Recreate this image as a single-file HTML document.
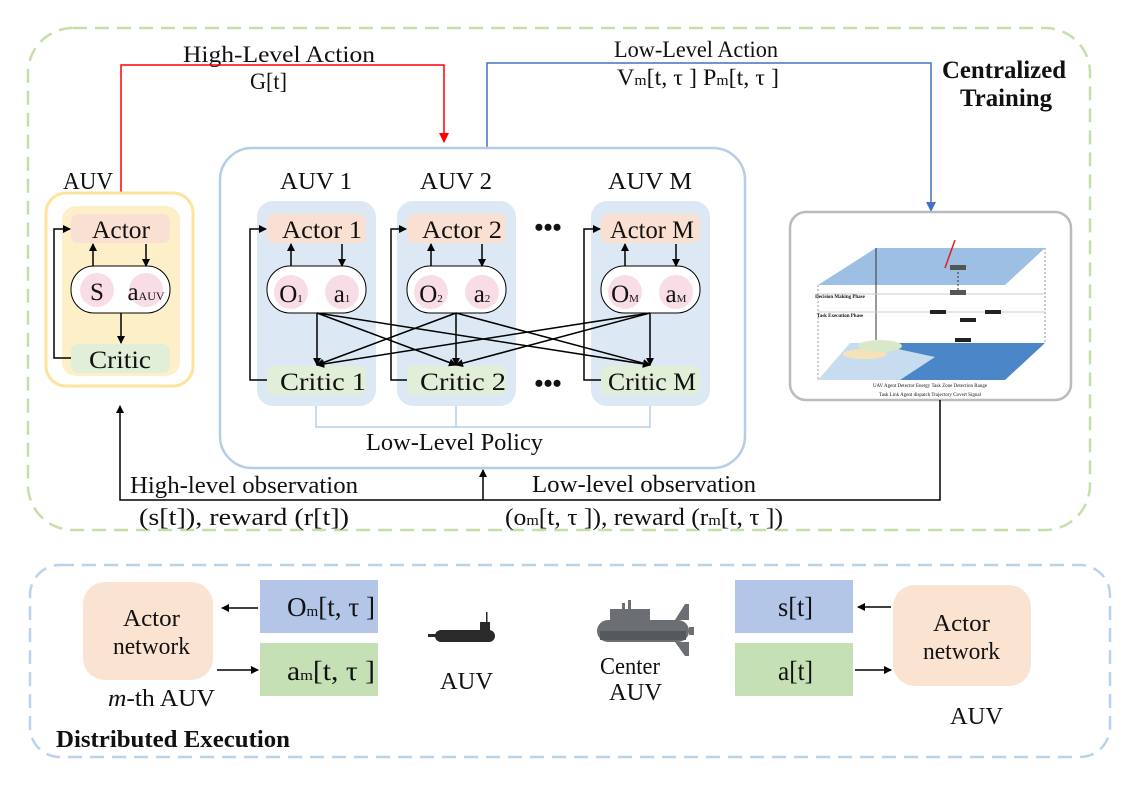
<!DOCTYPE html>
<html><head><meta charset="utf-8"><style>
html,body{margin:0;padding:0;background:#fff;width:1134px;height:785px;overflow:hidden}
svg{display:block}
text{font-family:"Liberation Serif",serif;fill:#111}
</style></head><body>
<svg width="1134" height="785" viewBox="0 0 1134 785" xmlns="http://www.w3.org/2000/svg">
<defs>
<marker id="ab" markerWidth="8" markerHeight="8" refX="7" refY="4" orient="auto" markerUnits="userSpaceOnUse"><path d="M0,0 L8,4 L0,8 z" fill="#000"/></marker>
<marker id="ar" markerWidth="10" markerHeight="10" refX="9" refY="5" orient="auto" markerUnits="userSpaceOnUse"><path d="M0,0 L10,5 L0,10 z" fill="#f00"/></marker>
<marker id="au" markerWidth="10" markerHeight="10" refX="9" refY="5" orient="auto" markerUnits="userSpaceOnUse"><path d="M0,0 L10,5 L0,10 z" fill="#4472c4"/></marker>
</defs>

<rect x="28" y="28" width="1062" height="502" rx="45" fill="none" stroke="#c5dfa8" stroke-width="2.5" stroke-dasharray="14,8"/>
<rect x="30" y="565" width="1080" height="192" rx="30" fill="none" stroke="#b9d3ec" stroke-width="2.5" stroke-dasharray="14,8"/>

<text x="183" y="62" font-size="23" textLength="192" lengthAdjust="spacingAndGlyphs">High-Level Action</text>
<text x="250" y="89" font-size="23" textLength="37" lengthAdjust="spacingAndGlyphs">G[t]</text>
<text x="614" y="57" font-size="23" textLength="164" lengthAdjust="spacingAndGlyphs">Low-Level Action</text>
<text x="617" y="85" font-size="23" textLength="162" lengthAdjust="spacingAndGlyphs">V<tspan font-size="15">m</tspan>[t, τ ]  P<tspan font-size="15">m</tspan>[t, τ ]</text>
<text x="942" y="78" font-size="25" font-weight="bold" textLength="124" lengthAdjust="spacingAndGlyphs">Centralized</text>
<text x="960" y="106" font-size="25" font-weight="bold" textLength="92" lengthAdjust="spacingAndGlyphs">Training</text>

<polyline points="121,192 121,65 444,65 444,142" fill="none" stroke="#f00" stroke-width="1.5" marker-end="url(#ar)"/>
<polyline points="487,148 487,63 931,63 931,211" fill="none" stroke="#4472c4" stroke-width="1.5" marker-end="url(#au)"/>

<text x="63" y="189" font-size="24" textLength="50" lengthAdjust="spacingAndGlyphs">AUV</text>
<rect x="46" y="193" width="147" height="193" rx="20" fill="#fff" stroke="#fde39b" stroke-width="3"/>
<rect x="62" y="206" width="118" height="170" rx="14" fill="#fdf0c8"/>
<rect x="71" y="214" width="99" height="29" rx="7" fill="#fae0d2"/>
<text x="92" y="238" font-size="25" textLength="58" lengthAdjust="spacingAndGlyphs">Actor</text>
<rect x="71" y="266" width="99" height="47" rx="23" fill="#fff" stroke="#000" stroke-width="1"/>
<circle cx="97" cy="290" r="17" fill="#f9dde6"/>
<circle cx="146" cy="290" r="17" fill="#f9dde6"/>
<text x="97" y="300" font-size="25" text-anchor="middle">S</text>
<text x="146" y="300" font-size="25" text-anchor="middle">a<tspan font-size="12">AUV</tspan></text>
<rect x="71" y="344" width="99" height="29" rx="7" fill="#e2efd8"/>
<text x="89" y="368" font-size="25" textLength="62" lengthAdjust="spacingAndGlyphs">Critic</text>
<line x1="93" y1="266" x2="93" y2="244" stroke="#000" stroke-width="1.5" marker-end="url(#ab)"/>
<line x1="146" y1="244" x2="146" y2="266" stroke="#000" stroke-width="1.5" marker-end="url(#ab)"/>
<line x1="121" y1="313" x2="121" y2="343" stroke="#000" stroke-width="1.5" marker-end="url(#ab)"/>
<polyline points="71,358 54,358 54,229 70,229" fill="none" stroke="#000" stroke-width="1.5" marker-end="url(#ab)"/>

<rect x="220" y="148" width="525" height="320" rx="32" fill="#fff" stroke="#b5cde8" stroke-width="2.5"/>
<text x="280" y="189" font-size="24" textLength="72" lengthAdjust="spacingAndGlyphs">AUV 1</text>
<text x="420" y="189" font-size="24" textLength="72" lengthAdjust="spacingAndGlyphs">AUV 2</text>
<text x="608" y="189" font-size="24" textLength="84" lengthAdjust="spacingAndGlyphs">AUV M</text>

<g>
<rect x="257" y="201" width="119" height="205" rx="16" fill="#dce8f4"/>
<rect x="267" y="214" width="99" height="29" rx="7" fill="#fae0d2"/>
<text x="282" y="238" font-size="25" textLength="80" lengthAdjust="spacingAndGlyphs">Actor 1</text>
<rect x="267" y="266" width="99" height="47" rx="23" fill="#fff" stroke="#000"/>
<circle cx="291" cy="292" r="17" fill="#f9dde6"/><circle cx="342" cy="292" r="17" fill="#f9dde6"/>
<text x="291" y="302" font-size="25" text-anchor="middle">O<tspan font-size="11">1</tspan></text>
<text x="342" y="302" font-size="25" text-anchor="middle">a<tspan font-size="11">1</tspan></text>
<rect x="267" y="366" width="99" height="29" rx="7" fill="#e2efd8"/>
<text x="280" y="390" font-size="25" textLength="86" lengthAdjust="spacingAndGlyphs">Critic 1</text>
<line x1="291" y1="266" x2="291" y2="244" stroke="#000" stroke-width="1.5" marker-end="url(#ab)"/>
<line x1="342" y1="244" x2="342" y2="266" stroke="#000" stroke-width="1.5" marker-end="url(#ab)"/>
<polyline points="267,380 250,380 250,229 266,229" fill="none" stroke="#000" stroke-width="1.5" marker-end="url(#ab)"/>
</g>
<g>
<rect x="397" y="201" width="119" height="205" rx="16" fill="#dce8f4"/>
<rect x="407" y="214" width="99" height="29" rx="7" fill="#fae0d2"/>
<text x="422" y="238" font-size="25" textLength="80" lengthAdjust="spacingAndGlyphs">Actor 2</text>
<rect x="407" y="266" width="99" height="47" rx="23" fill="#fff" stroke="#000"/>
<circle cx="431" cy="292" r="17" fill="#f9dde6"/><circle cx="482" cy="292" r="17" fill="#f9dde6"/>
<text x="431" y="302" font-size="25" text-anchor="middle">O<tspan font-size="11">2</tspan></text>
<text x="482" y="302" font-size="25" text-anchor="middle">a<tspan font-size="11">2</tspan></text>
<rect x="407" y="366" width="99" height="29" rx="7" fill="#e2efd8"/>
<text x="420" y="390" font-size="25" textLength="86" lengthAdjust="spacingAndGlyphs">Critic 2</text>
<line x1="431" y1="266" x2="431" y2="244" stroke="#000" stroke-width="1.5" marker-end="url(#ab)"/>
<line x1="482" y1="244" x2="482" y2="266" stroke="#000" stroke-width="1.5" marker-end="url(#ab)"/>
<polyline points="407,380 391,380 391,229 406,229" fill="none" stroke="#000" stroke-width="1.5" marker-end="url(#ab)"/>
</g>
<g>
<rect x="591" y="201" width="119" height="205" rx="16" fill="#dce8f4"/>
<rect x="601" y="214" width="99" height="29" rx="7" fill="#fae0d2"/>
<text x="610" y="238" font-size="25" textLength="84" lengthAdjust="spacingAndGlyphs">Actor M</text>
<rect x="601" y="266" width="99" height="47" rx="23" fill="#fff" stroke="#000"/>
<circle cx="625" cy="292" r="17" fill="#f9dde6"/><circle cx="676" cy="292" r="17" fill="#f9dde6"/>
<text x="625" y="302" font-size="25" text-anchor="middle">O<tspan font-size="11">M</tspan></text>
<text x="676" y="302" font-size="25" text-anchor="middle">a<tspan font-size="11">M</tspan></text>
<rect x="601" y="366" width="99" height="29" rx="7" fill="#e2efd8"/>
<text x="608" y="390" font-size="25" textLength="88" lengthAdjust="spacingAndGlyphs">Critic M</text>
<line x1="625" y1="266" x2="625" y2="244" stroke="#000" stroke-width="1.5" marker-end="url(#ab)"/>
<line x1="676" y1="244" x2="676" y2="266" stroke="#000" stroke-width="1.5" marker-end="url(#ab)"/>
<polyline points="601,380 584,380 584,229 600,229" fill="none" stroke="#000" stroke-width="1.5" marker-end="url(#ab)"/>
</g>
<text x="548" y="236" font-size="26" font-weight="bold" text-anchor="middle">•••</text>
<text x="548" y="392" font-size="26" font-weight="bold" text-anchor="middle">•••</text>

<g stroke="#000" stroke-width="1.5" marker-end="url(#ab)">
<line x1="317" y1="313" x2="317" y2="365"/>
<line x1="317" y1="313" x2="456" y2="365"/>
<line x1="317" y1="313" x2="650" y2="365"/>
<line x1="456" y1="313" x2="317" y2="365"/>
<line x1="456" y1="313" x2="456" y2="365"/>
<line x1="456" y1="313" x2="650" y2="365"/>
<line x1="650" y1="313" x2="317" y2="365"/>
<line x1="650" y1="313" x2="456" y2="365"/>
<line x1="650" y1="313" x2="650" y2="365"/>
</g>
<polyline points="316,406 316,427 650,427 650,406" fill="none" stroke="#b5cde8" stroke-width="1.5"/>
<line x1="456" y1="406" x2="456" y2="427" stroke="#b5cde8" stroke-width="1.5"/>
<text x="366" y="450" font-size="24" textLength="177" lengthAdjust="spacingAndGlyphs">Low-Level Policy</text>

<rect x="790" y="212" width="281" height="188" rx="16" fill="#fff" stroke="#bbb" stroke-width="2.5"/>
<polygon points="876,248 1045,248 1005,285 818,285" fill="#9dbfe3"/>
<polygon points="855,343 1045,343 1005,380 818,380" fill="#4a86c8"/>
<polygon points="818,380 900,380 935,357 870,343 850,343" fill="#c8dcf0"/>
<ellipse cx="865" cy="354" rx="22" ry="5" fill="#f6e2b8"/>
<ellipse cx="880" cy="346" rx="22" ry="6" fill="#d8e8c8"/>
<line x1="876" y1="248" x2="876" y2="340" stroke="#333"/>
<line x1="818" y1="285" x2="818" y2="380" stroke="#999" stroke-dasharray="2,2"/>
<line x1="1045" y1="248" x2="1045" y2="343" stroke="#999" stroke-dasharray="2,2"/>
<line x1="818" y1="294" x2="1045" y2="294" stroke="#ccc"/>
<line x1="818" y1="312" x2="1045" y2="312" stroke="#ccc"/>
<line x1="955" y1="240" x2="945" y2="268" stroke="#e02020" stroke-width="1.5"/>
<line x1="958" y1="272" x2="958" y2="290" stroke="#333" stroke-dasharray="2,2"/>
<rect x="950" y="265" width="16" height="5" fill="#555"/>
<rect x="950" y="290" width="16" height="5" fill="#555"/>
<rect x="930" y="310" width="16" height="4" fill="#222"/>
<rect x="960" y="318" width="16" height="4" fill="#222"/>
<rect x="985" y="310" width="16" height="4" fill="#222"/>
<rect x="955" y="338" width="16" height="4" fill="#222"/>
<text x="840" y="298" font-size="5" font-weight="bold" text-anchor="middle">Decision Making Phase</text>
<text x="840" y="317" font-size="5" font-weight="bold" text-anchor="middle">Task Execution Phase</text>
<text x="930" y="387" font-size="5" text-anchor="middle">UAV  Agent  Detector  Energy   Task Zone   Detection Range</text>
<text x="930" y="396" font-size="5" text-anchor="middle">Task Link   Agent dispatch   Trajectory   Covert Signal</text>

<polyline points="940,400 940,500 120,500 120,406" fill="none" stroke="#000" stroke-width="1.5" marker-end="url(#ab)"/>
<line x1="483" y1="500" x2="483" y2="470" stroke="#000" stroke-width="1.5" marker-end="url(#ab)"/>
<text x="130" y="493" font-size="24" textLength="228" lengthAdjust="spacingAndGlyphs">High-level observation</text>
<text x="139" y="525" font-size="24" textLength="210" lengthAdjust="spacingAndGlyphs">(s[t]), reward (r[t])</text>
<text x="532" y="492" font-size="24" textLength="224" lengthAdjust="spacingAndGlyphs">Low-level observation</text>
<text x="505" y="525" font-size="24" textLength="278" lengthAdjust="spacingAndGlyphs">(o<tspan font-size="15">m</tspan>[t, τ ]), reward (r<tspan font-size="15">m</tspan>[t, τ ])</text>

<rect x="83" y="582" width="130" height="98" rx="22" fill="#fbe3d2"/>
<text x="123" y="626" font-size="24" textLength="57" lengthAdjust="spacingAndGlyphs">Actor</text>
<text x="113" y="654" font-size="24" textLength="77" lengthAdjust="spacingAndGlyphs">network</text>
<rect x="260" y="580" width="118" height="53" fill="#b4c6e7"/>
<text x="287" y="616" font-size="27" textLength="88" lengthAdjust="spacingAndGlyphs">O<tspan font-size="15">m</tspan>[t, τ ]</text>
<rect x="260" y="643" width="118" height="53" fill="#c5e0b4"/>
<text x="287" y="680" font-size="27" textLength="88" lengthAdjust="spacingAndGlyphs">a<tspan font-size="15">m</tspan>[t, τ ]</text>
<line x1="258" y1="608" x2="222" y2="608" stroke="#000" stroke-width="1.5" marker-end="url(#ab)"/>
<line x1="217" y1="670" x2="258" y2="670" stroke="#000" stroke-width="1.5" marker-end="url(#ab)"/>
<text x="108" y="706" font-size="24" textLength="107" lengthAdjust="spacingAndGlyphs"><tspan font-style="italic">m</tspan>-th AUV</text>

<g fill="#2a2a2a">
<rect x="435" y="630" width="60" height="12" rx="6"/>
<rect x="480" y="622" width="10" height="10"/>
<rect x="486" y="612" width="1.5" height="10"/>
<rect x="428" y="634" width="8" height="3"/>
</g>
<text x="440" y="689" font-size="24" textLength="53" lengthAdjust="spacingAndGlyphs">AUV</text>

<g fill="#6b6e72">
<rect x="597" y="620" width="92" height="22" rx="11"/>
<rect x="610" y="609" width="40" height="14"/>
<rect x="622" y="603" width="3" height="8"/><rect x="628" y="600" width="3" height="11"/>
<polygon points="675,620 685,604 689,604 689,620"/>
<polygon points="675,642 685,656 689,656 689,642"/>
<rect x="689" y="627" width="5" height="8"/>
</g>
<rect x="600" y="631" width="86" height="9" fill="#55585c"/>
<text x="600" y="674" font-size="24" textLength="60" lengthAdjust="spacingAndGlyphs">Center</text>
<text x="609" y="700" font-size="24" textLength="53" lengthAdjust="spacingAndGlyphs">AUV</text>

<rect x="735" y="580" width="118" height="53" fill="#b4c6e7"/>
<text x="778" y="616" font-size="27" textLength="35" lengthAdjust="spacingAndGlyphs">s[t]</text>
<rect x="735" y="643" width="118" height="53" fill="#c5e0b4"/>
<text x="778" y="680" font-size="27" textLength="35" lengthAdjust="spacingAndGlyphs">a[t]</text>
<rect x="893" y="585" width="138" height="101" rx="22" fill="#fbe3d2"/>
<text x="933" y="631" font-size="24" textLength="57" lengthAdjust="spacingAndGlyphs">Actor</text>
<text x="923" y="659" font-size="24" textLength="77" lengthAdjust="spacingAndGlyphs">network</text>
<line x1="891" y1="607" x2="858" y2="607" stroke="#000" stroke-width="1.5" marker-end="url(#ab)"/>
<line x1="855" y1="670" x2="891" y2="670" stroke="#000" stroke-width="1.5" marker-end="url(#ab)"/>
<text x="950" y="724" font-size="24" textLength="53" lengthAdjust="spacingAndGlyphs">AUV</text>
<text x="56" y="747" font-size="24" font-weight="bold" textLength="234" lengthAdjust="spacingAndGlyphs">Distributed Execution</text>
</svg>
</body></html>
